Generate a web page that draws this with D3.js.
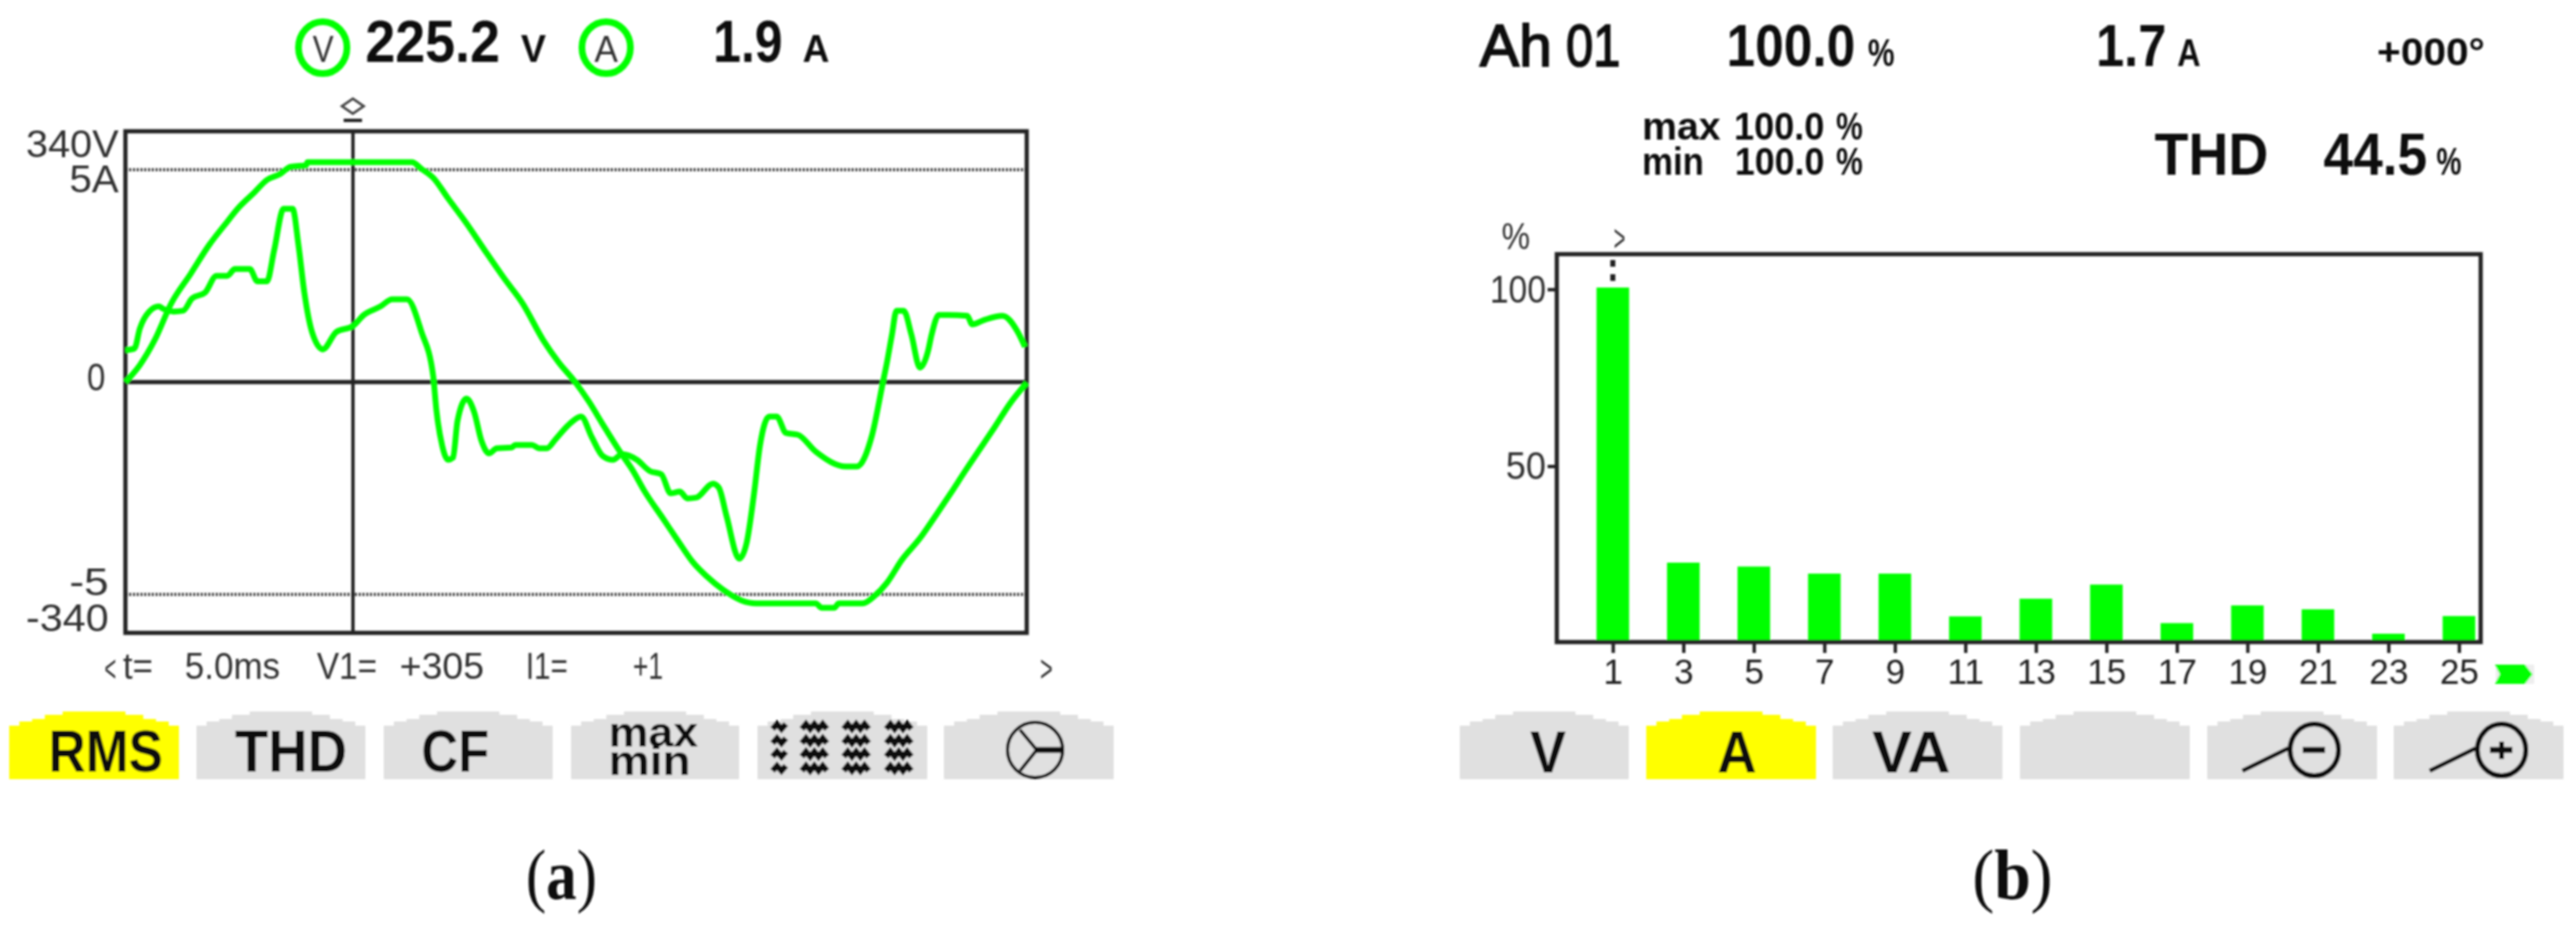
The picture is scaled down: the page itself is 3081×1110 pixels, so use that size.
<!DOCTYPE html>
<html>
<head>
<meta charset="utf-8">
<script src="https://cdnjs.cloudflare.com/ajax/libs/d3/7.8.5/d3.min.js"></script>
<style>
  body { margin: 0; background: #fff; }
  text { font-family: "Liberation Sans", Arial, sans-serif; fill: #111; }
</style>
</head>
<body>
<svg id="chart" width="3081" height="1110"></svg>
<script>
// waveform panel, time in ms
const voltageTime = [0, .32, .65, 1.02, 1.45, 1.86, 2.19, 2.52, 2.86, 3.14, 3.43, 3.67, 4.01, 4.04, 5.05, 6.36, 6.57, 6.83, 7.16, 7.57, 7.98, 8.4, 8.81, 9.28, 9.61, 9.98, 10.28, 10.59, 10.97, 11.26, 11.51, 11.93, 12.26, 12.59, 12.91, 13.25, 13.67, 13.99, 15.32, 15.45, 15.73, 15.83, 16.36, 16.64, 16.9, 17.23, 17.64, 17.98, 18.31, 18.64, 18.96, 19.3, 19.63, 20]
const voltageValues = [0, 23, 57, 107, 147, 186, 212, 237, 257, 274, 282, 292, 294, 298, 298, 298, 289, 277, 249, 215, 178, 141, 107, 56, 27, 0, -26, -57, -94, -120, -147, -185, -215, -244, -264, -281, -296, -300, -300, -306, -306, -300, -300, -289, -272, -241, -211, -181, -151, -120, -91, -60, -29, -1]

const currentTime = [0, .2, .32, .53, .74, .85, 1.07, 1.28, 1.48, 1.77, 2.02, 2.26, 2.43, 2.76, 2.93, 3.14, 3.3, 3.51, 3.71, 3.84, 3.97, 4.14, 4.38, 4.68, 5.05, 5.29, 5.66, 5.92, 6.25, 6.57, 6.83, 6.9, 7.03, 7.16, 7.27, 7.37, 7.57, 7.74, 7.9, 8.07, 8.24, 8.57, 8.65, 9.02, 9.18, 9.35, 9.55, 9.85, 10.11, 10.35, 10.59, 10.82, 11.02, 11.35, 11.63, 11.89, 12.1, 12.3, 12.47, 12.67, 13.04, 13.17, 13.34, 13.62, 13.78, 13.95, 14.08, 14.29, 14.45, 14.66, 14.92, 15.32, 15.99, 16.23, 16.57, 16.81, 16.9, 17.01, 17.11, 17.27, 17.44, 17.63, 17.81, 17.89, 18.05, 18.26, 18.68, 18.79, 19.05, 19.46, 19.8, 19.96]
const currentValues = [.75, .79, 1.26, 1.66, 1.78, 1.72, 1.66, 1.68, 1.97, 2.11, 2.5, 2.5, 2.66, 2.66, 2.37, 2.37, 3.1, 4.08, 4.08, 3.23, 2.11, 1.18, .77, 1.18, 1.32, 1.58, 1.78, 1.95, 1.95, 1.18, .14, -.65, -1.5, -1.83, -1.78, -.91, -.39, -.71, -1.38, -1.68, -1.56, -1.54, -1.48, -1.48, -1.56, -1.56, -1.34, -.99, -.81, -1.3, -1.74, -1.83, -1.7, -1.83, -2.09, -2.17, -2.62, -2.58, -2.74, -2.72, -2.39, -2.49, -3.16, -4.16, -3.81, -2.62, -1.5, -.81, -.81, -1.2, -1.24, -1.64, -1.99, -1.99, -1.24, 0, .47, 1.12, 1.68, 1.68, 1.12, .34, .73, 1.12, 1.58, 1.58, 1.56, 1.36, 1.46, 1.56, 1.18, .83]

// harmonic panel
const harmonicOrders = [1, 3, 5, 7, 9, 11, 13, 15, 17, 19, 21, 23, 25]
const harmonicPercent = [100.5, 22.7, 21.6, 19.6, 19.6, 7.5, 12.5, 16.5, 5.6, 10.6, 9.5, 2.6, 7.6]
const percentTicks = [50, 100]

const leftButtons = ["RMS", "THD", "CF", "maxmin", "grid", "star"]
const rightButtons = ["V", "A", "VA", "", "zoomOut", "zoomIn"]

const GREEN = "#00ff00"
const YELLOW = "#ffff00"
const GREY = "#e0e0e0"
const INK = "#222"

const svg = d3.select("#chart")
const defs = svg.append("defs")
defs.append("filter").attr("id", "soft").append("feGaussianBlur").attr("stdDeviation", 0.8)
const root = svg.append("g").attr("filter", "url(#soft)")

// text squeezed to the measured width, the original is a narrow bitmap font
function label(g, str, x, y, width, size, heavy) {
  const t = g.append("text")
    .attr("x", x)
    .attr("y", y)
    .attr("font-size", size)
    .attr("textLength", width)
    .attr("lengthAdjust", "spacingAndGlyphs")
    .text(str)
  if (heavy === "bold") t.attr("font-weight", "bold")
  if (heavy === "thin") t.style("fill", "#333")
  return t
}

function caption(g, letter, x, width) {
  const t = g.append("text")
    .attr("x", x).attr("y", 1075)
    .attr("font-size", 85)
    .attr("textLength", width)
    .attr("lengthAdjust", "spacingAndGlyphs")
    .style("font-family", "'Liberation Serif', serif")
  t.append("tspan").text("(")
  t.append("tspan").attr("font-weight", "bold").text(letter)
  t.append("tspan").text(")")
}

function line(g, x1, y1, x2, y2, w) {
  return g.append("line")
    .attr("x1", x1).attr("y1", y1).attr("x2", x2).attr("y2", y2)
    .attr("stroke", INK).attr("stroke-width", w)
}

// dome shaped soft key, stepped like the screen pixels
function softKey(g, x0, x1, fill) {
  const bottom = 932
  const w = x1 - x0
  const steps = [[0, 868], [.06, 868], [.06, 863], [.135, 863], [.135, 860], [.21, 860], [.21, 855], [.315, 855], [.315, 851]]
  const left = steps.map((d) => [x0 + d[0] * w, d[1]])
  const right = steps.slice().reverse().map((d) => [x1 - d[0] * w, d[1]])
  const pts = [[x0, bottom], ...left, ...right, [x1, bottom]]
  g.append("path").attr("d", d3.line()(pts) + "Z").attr("fill", fill)
}

function ring(g, cx, cy, rx, ry, w, color) {
  return g.append("ellipse")
    .attr("cx", cx).attr("cy", cy).attr("rx", rx).attr("ry", ry)
    .attr("fill", "none").attr("stroke", color).attr("stroke-width", w)
}

/* ---------- (a) waveform ---------- */
const a = root.append("g").attr("class", "panel-a")

const xTime = d3.scaleLinear().domain([0, 20]).range([150, 1228])
const yVolt = d3.scaleLinear().domain([-340, 340]).range([757, 157])
const yAmp = d3.scaleLinear().domain([-5, 5]).range([711, 203])

// header
ring(a, 386, 57, 29, 31, 8, GREEN)
label(a, "V", 374, 74, 25, 44, "thin")
label(a, "225.2", 437, 74, 161, 71, "bold")
label(a, "V", 623, 74, 30, 47, "bold")
ring(a, 725, 57, 29, 31, 8, GREEN)
label(a, "A", 711, 74, 28, 44, "thin")
label(a, "1.9", 853, 74, 83, 71, "bold")
label(a, "A", 960, 74, 32, 47, "bold")

// dotted limits
;[5, -5].forEach((v) => {
  line(a, xTime(0), yAmp(v), xTime(20), yAmp(v), 4)
    .attr("stroke", "#444").attr("stroke-dasharray", "2.5 2")
})

// frame, zero line and cursor
a.append("rect")
  .attr("x", xTime(0)).attr("y", yVolt(340))
  .attr("width", xTime(20) - xTime(0)).attr("height", yVolt(-340) - yVolt(340))
  .attr("fill", "none").attr("stroke", INK).attr("stroke-width", 5)
line(a, xTime(0), yVolt(0), xTime(20), yVolt(0), 5)
line(a, xTime(5.05), yVolt(340), xTime(5.05), yVolt(-340), 4)

// cursor marker
a.append("path")
  .attr("d", "M422,118 L435,127 L422,136 L409,127 Z")
  .attr("fill", "none").attr("stroke", "#444").attr("stroke-width", 3)
line(a, 411, 144, 433, 144, 4)

// waves
const voltLine = d3.line().x((d, i) => xTime(voltageTime[i])).y((d) => yVolt(d)).curve(d3.curveMonotoneX)
const ampLine = d3.line().x((d, i) => xTime(currentTime[i])).y((d) => yAmp(d)).curve(d3.curveMonotoneX)
a.append("path").datum(voltageValues).attr("d", voltLine)
  .attr("fill", "none").attr("stroke", GREEN).attr("stroke-width", 7).attr("stroke-linejoin", "round")
a.append("path").datum(currentValues).attr("d", ampLine)
  .attr("fill", "none").attr("stroke", GREEN).attr("stroke-width", 7).attr("stroke-linejoin", "round")

// scale labels
label(a, "340V", 31, 188, 111, 46, "thin")
label(a, "5A", 83, 230, 59, 46, "thin")
label(a, "0", 104, 467, 22, 46, "thin")
label(a, "-5", 83, 712, 47, 46, "thin")
label(a, "-340", 31, 755, 99, 46, "thin")

// cursor readout
label(a, "<", 125, 815, 14, 44, "thin")
label(a, "t=", 147, 812, 36, 44, "thin")
label(a, "5.0ms", 221, 812, 114, 44, "thin")
label(a, "V1=", 379, 812, 72, 44, "thin")
label(a, "+305", 478, 812, 101, 44, "thin")
label(a, "I1=", 629, 812, 50, 44, "thin")
label(a, "+1", 757, 812, 36, 44, "thin")
label(a, ">", 1244, 815, 15, 44, "thin")

// soft keys
const leftKeyX = [[11, 214], [235, 437], [459, 661], [683, 884], [906, 1109], [1129, 1332]]
leftButtons.forEach((b, i) => softKey(a, leftKeyX[i][0], leftKeyX[i][1], b === "RMS" ? YELLOW : GREY))
label(a, "RMS", 58, 923, 137, 71, "bold")
label(a, "THD", 281, 923, 134, 71, "bold")
label(a, "CF", 504, 923, 81, 71, "bold")
label(a, "max", 728, 893, 107, 50, "bold")
label(a, "min", 728, 927, 98, 50, "bold")

// wavy table icon
const zig = d3.line()
;[[924, 16], [959, 30], [1009, 30], [1060, 30]].forEach(([x, w]) => {
  ;[869, 886, 902, 919].forEach((y) => {
    const n = w > 20 ? 6 : 3
    const pts = d3.range(n + 1).map((k) => [x + (k * w) / n, y + (k % 2 ? -3 : 3)])
    a.append("path").attr("d", zig(pts))
      .attr("fill", "none").attr("stroke", "#111").attr("stroke-width", 7)
  })
})

// star connection icon
ring(a, 1238, 897, 33, 33, 4, "#111")
line(a, 1240, 897, 1272, 897, 7).attr("stroke", "#111")
line(a, 1240, 897, 1220, 873, 4).attr("stroke", "#111")
line(a, 1240, 897, 1220, 922, 4).attr("stroke", "#111")

caption(a, "a", 629, 85)

/* ---------- (b) harmonics ---------- */
const b = root.append("g").attr("class", "panel-b")

const xOrder = d3.scalePoint().domain(harmonicOrders).range([1929, 2941])
const yPct = d3.scaleLinear().domain([0, 100]).range([769, 346])
const barWidth = 39

// header
label(b, "Ah", 1770, 79, 86, 71).style("stroke", "#111").style("stroke-width", 2)
label(b, "01", 1873, 79, 65, 71).style("stroke", "#111").style("stroke-width", 2)
label(b, "100.0", 2065, 79, 154, 71, "bold")
label(b, "%", 2234, 79, 32, 47, "bold")
label(b, "1.7", 2507, 79, 84, 71, "bold")
label(b, "A", 2604, 79, 28, 47, "bold")
label(b, "+000°", 2843, 78, 129, 46, "bold")
label(b, "max", 1964, 167, 94, 46, "bold")
label(b, "100.0", 2074, 167, 108, 46, "bold")
label(b, "%", 2196, 167, 32, 46, "bold")
label(b, "min", 1964, 209, 74, 46, "bold")
label(b, "100.0", 2075, 209, 107, 46, "bold")
label(b, "%", 2196, 209, 32, 46, "bold")
label(b, "THD", 2577, 209, 136, 71, "bold")
label(b, "44.5", 2779, 209, 124, 71, "bold")
label(b, "%", 2914, 209, 30, 47, "bold")

// bars
b.selectAll("rect.harmonic")
  .data(harmonicOrders)
  .join("rect")
  .classed("harmonic", true)
  .attr("x", (d) => xOrder(d) - barWidth / 2)
  .attr("y", (d, i) => yPct(harmonicPercent[i]))
  .attr("width", barWidth)
  .attr("height", (d, i) => yPct(0) - yPct(harmonicPercent[i]))
  .attr("fill", GREEN)

// frame
b.append("rect")
  .attr("x", 1862).attr("y", 304)
  .attr("width", 2967 - 1862).attr("height", 768 - 304)
  .attr("fill", "none").attr("stroke", INK).attr("stroke-width", 5)

// axes
const xAxis = b.append("g")
  .attr("transform", "translate(0,768)")
  .call(d3.axisBottom(xOrder).tickSize(13).tickPadding(7))
xAxis.select(".domain").remove()
xAxis.selectAll("line").attr("stroke", INK).attr("stroke-width", 4)
xAxis.selectAll("text").attr("font-size", 42).style("fill", "#222")

const yAxis = b.append("g")
  .attr("transform", "translate(1862,0)")
  .call(d3.axisLeft(yPct).tickValues(percentTicks).tickSize(11).tickPadding(2))
yAxis.select(".domain").remove()
yAxis.selectAll("line").attr("stroke", INK).attr("stroke-width", 4)
yAxis.selectAll("text")
  .attr("font-size", 47)
  .attr("textLength", (d) => (d === 100 ? 67 : 48))
  .attr("lengthAdjust", "spacingAndGlyphs")
  .style("fill", "#333")

label(b, "%", 1796, 298, 34, 44, "thin")
label(b, ">", 1930, 300, 14, 44, "thin")
line(b, xOrder(1), 311, xOrder(1), 336, 6).attr("stroke-dasharray", "8 9")

// more harmonics arrow
b.append("rect").attr("x", 2985).attr("y", 795).attr("width", 46).attr("height", 23).attr("fill", "#eee")
b.append("path")
  .attr("d", "M2984,795 L3020,795 L3029,806.5 L3020,818 L2984,818 L2990,806.5 Z")
  .attr("fill", GREEN)

// soft keys
const rightKeyX = [[1746, 1948], [1969, 2172], [2192, 2395], [2416, 2619], [2640, 2843], [2863, 3066]]
rightButtons.forEach((k, i) => softKey(b, rightKeyX[i][0], rightKeyX[i][1], k === "A" ? YELLOW : GREY))
label(b, "V", 1830, 924, 43, 71, "bold")
label(b, "A", 2054, 924, 47, 71, "bold")
label(b, "VA", 2239, 924, 94, 71, "bold")

// magnifier icons
;[2768, 2992].forEach((cx, i) => {
  ring(b, cx, 897, 29, 31, 6, "#111")
  line(b, cx - 86, 922, cx - 31, 895, 5).attr("stroke", "#111")
  line(b, cx - 14, 897, cx + 13, 897, 7).attr("stroke", "#111")
  if (i === 1) line(b, cx, 887, cx, 908, 6).attr("stroke", "#111")
})

caption(b, "b", 2359, 96)
</script>
</body>
</html>
